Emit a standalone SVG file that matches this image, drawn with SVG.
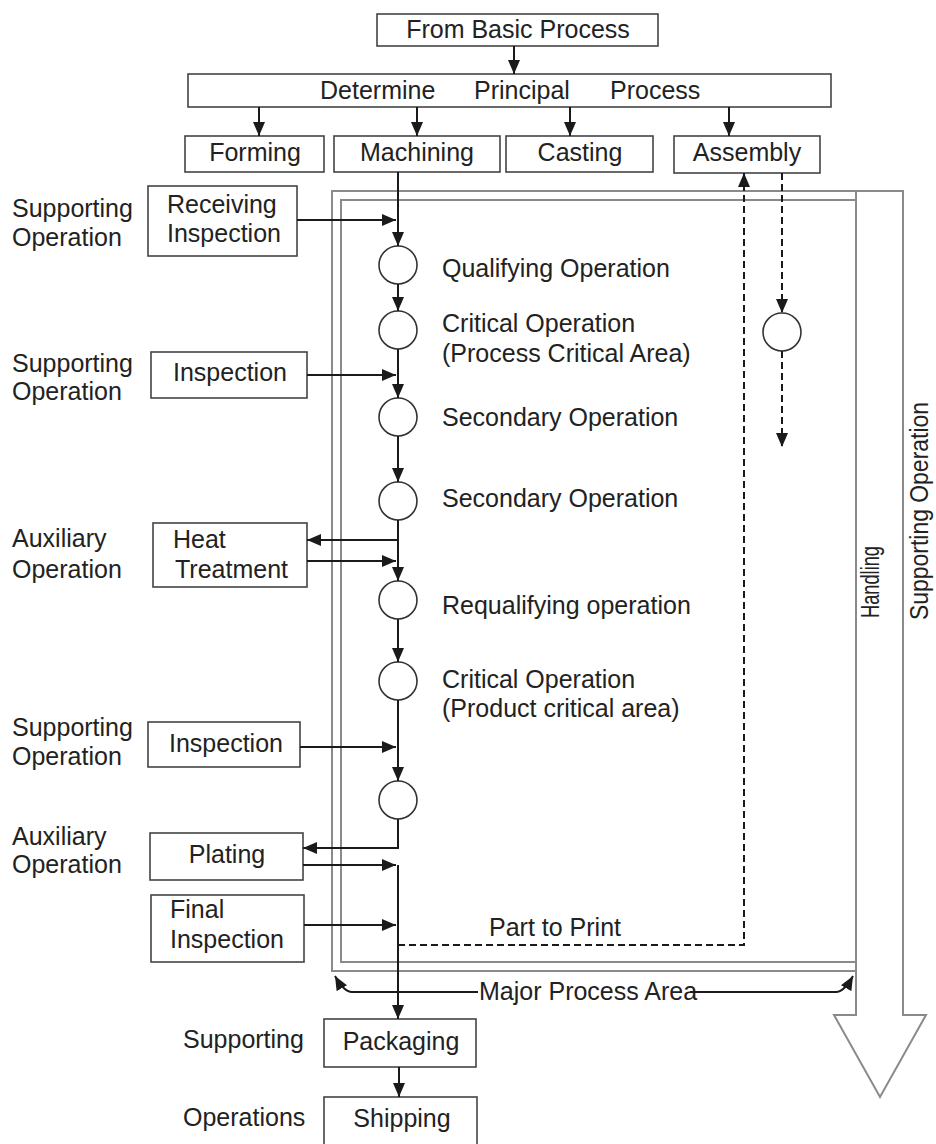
<svg xmlns="http://www.w3.org/2000/svg" width="936" height="1144" viewBox="0 0 936 1144">
  <defs>
    <marker id="arrow" viewBox="0 0 14 12" refX="14" refY="6" markerWidth="14" markerHeight="12" markerUnits="userSpaceOnUse" orient="auto">
      <path d="M0,0 L14,6 L0,12 z" fill="#1a1a1a"/>
    </marker>
    <style>
      text { font-family: "Liberation Sans", Arial, sans-serif; font-size: 25px; fill: #222; }
      .mid { text-anchor: middle; }
      .box { fill: #fff; stroke: #444; stroke-width: 1.6; }
      .frame { fill: none; stroke: #8a8a8a; stroke-width: 2; }
      .op { fill: #fff; stroke: #333; stroke-width: 1.6; }
      .flow { fill: none; stroke: #1a1a1a; stroke-width: 2; }
      .dash { fill: none; stroke: #1a1a1a; stroke-width: 2; stroke-dasharray: 7 4; }
      .arr { marker-end: url(#arrow); }
    </style>
  </defs>
  <rect width="936" height="1144" fill="#fff"/>

  <!-- process area frames and the handling arrow -->
  <g id="major-process-area">
    <path class="frame" d="M856,971 H332 V191 H903 V1015 H926 L880,1097 L834,1015 H856 V191"/>
    <path class="frame" d="M856,200 H341 V962 H856"/>
    <text x="879" y="618" font-size="21" textLength="72" lengthAdjust="spacingAndGlyphs" transform="rotate(-90 879 618)">Handling</text>
    <text x="928" y="620" font-size="22" textLength="218" lengthAdjust="spacingAndGlyphs" transform="rotate(-90 928 620)">Supporting Operation</text>
  </g>

  <!-- top boxes -->
  <g id="from-basic-process">
    <rect class="box" x="377" y="14" width="281" height="32"/>
    <text class="mid" x="518" y="38">From Basic Process</text>
  </g>
  <g id="determine-principal-process">
    <rect class="box" x="188" y="74" width="643" height="33"/>
    <text y="99"><tspan x="320">Determine</tspan><tspan x="474">Principal</tspan><tspan x="610">Process</tspan></text>
  </g>
  <g id="forming">
    <rect class="box" x="185" y="136" width="139" height="36"/>
    <text class="mid" x="255" y="161">Forming</text>
  </g>
  <g id="machining">
    <rect class="box" x="334" y="136" width="166" height="36"/>
    <text class="mid" x="417" y="161">Machining</text>
  </g>
  <g id="casting">
    <rect class="box" x="506" y="136" width="147" height="36"/>
    <text class="mid" x="580" y="161">Casting</text>
  </g>
  <g id="assembly">
    <rect class="box" x="674" y="136" width="146" height="37"/>
    <text class="mid" x="747" y="161">Assembly</text>
  </g>

  <!-- side operation boxes -->
  <g id="receiving-inspection">
    <text x="12" y="217">Supporting</text>
    <text x="12" y="246">Operation</text>
    <rect class="box" x="148" y="186" width="149" height="70"/>
    <text x="167" y="213">Receiving</text>
    <text x="167" y="242">Inspection</text>
  </g>
  <g id="inspection-1">
    <text x="12" y="372">Supporting</text>
    <text x="12" y="400">Operation</text>
    <rect class="box" x="151" y="352" width="156" height="46"/>
    <text class="mid" x="230" y="381">Inspection</text>
  </g>
  <g id="heat-treatment">
    <text x="12" y="547">Auxiliary</text>
    <text x="12" y="578">Operation</text>
    <rect class="box" x="153" y="523" width="154" height="64"/>
    <text x="173" y="548">Heat</text>
    <text x="175" y="578">Treatment</text>
  </g>
  <g id="inspection-2">
    <text x="12" y="736">Supporting</text>
    <text x="12" y="765">Operation</text>
    <rect class="box" x="148" y="722" width="152" height="45"/>
    <text class="mid" x="226" y="752">Inspection</text>
  </g>
  <g id="plating">
    <text x="12" y="845">Auxiliary</text>
    <text x="12" y="873">Operation</text>
    <rect class="box" x="150" y="833" width="153" height="47"/>
    <text class="mid" x="227" y="863">Plating</text>
  </g>
  <g id="final-inspection">
    <rect class="box" x="151" y="895" width="153" height="67"/>
    <text x="170" y="918">Final</text>
    <text x="170" y="948">Inspection</text>
  </g>
  <g id="packaging">
    <text x="183" y="1048">Supporting</text>
    <rect class="box" x="324" y="1019" width="152" height="48"/>
    <text class="mid" x="401" y="1050">Packaging</text>
  </g>
  <g id="shipping">
    <text x="183" y="1126">Operations</text>
    <rect class="box" x="324" y="1097" width="153" height="50"/>
    <text class="mid" x="402" y="1127">Shipping</text>
  </g>

  <!-- operation circles on the main line -->
  <g id="qualifying-operation">
    <circle class="op" cx="398" cy="265" r="19"/>
    <text x="442" y="277">Qualifying Operation</text>
  </g>
  <g id="critical-operation-process">
    <circle class="op" cx="398" cy="330" r="19"/>
    <text x="442" y="332">Critical Operation</text>
    <text x="442" y="362">(Process Critical Area)</text>
  </g>
  <g id="secondary-operation-1">
    <circle class="op" cx="398" cy="417" r="19"/>
    <text x="442" y="426">Secondary Operation</text>
  </g>
  <g id="secondary-operation-2">
    <circle class="op" cx="398" cy="501" r="19"/>
    <text x="442" y="507">Secondary Operation</text>
  </g>
  <g id="requalifying-operation">
    <circle class="op" cx="398" cy="600" r="19"/>
    <text x="442" y="614">Requalifying operation</text>
  </g>
  <g id="critical-operation-product">
    <circle class="op" cx="398" cy="681" r="19"/>
    <text x="442" y="688">Critical Operation</text>
    <text x="442" y="717">(Product critical area)</text>
  </g>
  <g id="final-operation">
    <circle class="op" cx="398" cy="800" r="19"/>
  </g>
  <g id="assembly-operation">
    <circle class="op" cx="782" cy="332" r="19"/>
  </g>

  <g id="labels">
    <text x="489" y="936">Part to Print</text>
    <text x="479" y="1000">Major Process Area</text>
  </g>

  <!-- connectors -->
  <g id="connectors">
    <path class="flow arr" d="M514,46 V74"/>
    <path class="flow arr" d="M259,107 V136"/>
    <path class="flow arr" d="M417,107 V136"/>
    <path class="flow arr" d="M570,107 V136"/>
    <path class="flow arr" d="M729,107 V136"/>

    <path class="flow arr" d="M398,172 V246"/>
    <path class="flow arr" d="M297,220 H396"/>
    <path class="flow arr" d="M398,284 V311"/>
    <path class="flow arr" d="M398,349 V398"/>
    <path class="flow arr" d="M307,375 H396"/>
    <path class="flow arr" d="M398,436 V482"/>
    <path class="flow arr" d="M398,520 V581"/>
    <path class="flow arr" d="M398,540 H307"/>
    <path class="flow arr" d="M307,561 H396"/>
    <path class="flow arr" d="M398,619 V662"/>
    <path class="flow arr" d="M398,700 V781"/>
    <path class="flow arr" d="M300,747 H396"/>
    <path class="flow arr" d="M398,819 V848 H303"/>
    <path class="flow arr" d="M303,865 H396"/>
    <path class="flow arr" d="M398,865 V1019"/>
    <path class="flow arr" d="M304,925 H396"/>
    <path class="flow arr" d="M399,1067 V1097"/>

    <path class="dash arr" d="M398,945 H744 V173"/>
    <path class="dash arr" d="M782,173 V313"/>
    <path class="dash arr" d="M782,351 V447"/>

    <path class="flow arr" d="M478,992 H352 Q344,992 335,976"/>
    <path class="flow arr" d="M690,992 H836 Q844,992 853,976"/>
  </g>
</svg>
